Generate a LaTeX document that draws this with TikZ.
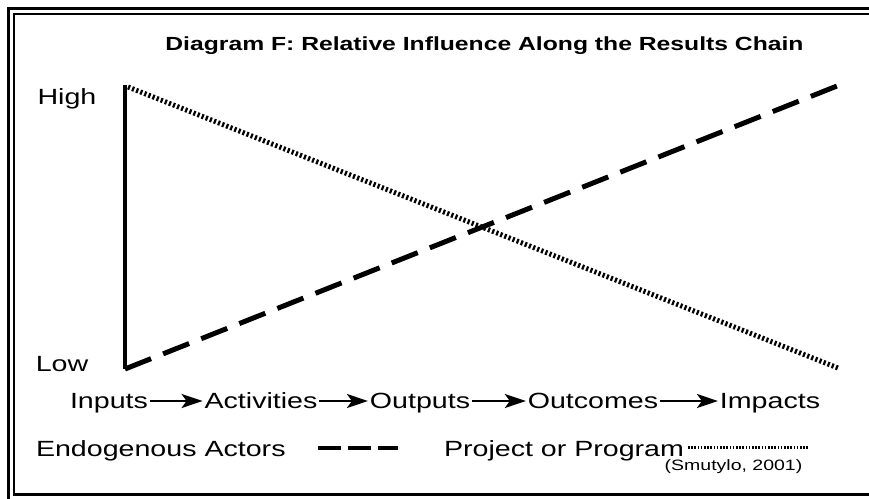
\documentclass[tikz,border=0pt]{standalone}
\usepackage{fontspec}
\setmainfont[FakeStretch=1.3]{Liberation Sans}
\usetikzlibrary{arrows.meta}
\tikzset{%
	% Style of the plain labels
	Label/.style={font=\fontsize{22}{25}\selectfont,inner sep=1pt,outer sep=0,text height=15.8pt,text depth=0pt},
	% Style of the title
	Title/.style={font=\fontsize{19}{22}\selectfont\bfseries,inner sep=0},
	% Style of the reference
	Source/.style={font=\fontsize{15}{17}\selectfont,inner sep=0},
	% Style of the chain arrows
	ChainArrow/.style={line width=2.2pt,-{Stealth[length=21pt,width=14pt,inset=5pt]},shorten <=1pt,shorten >=1pt},
	% Style of the influence lines
	Axis/.style={line width=4.5pt},
	Endogenous/.style={line width=5pt,dash pattern=on 28pt off 13pt},
	Program/.style={line width=5pt,dash pattern=on 2.2pt off 2.2pt},
	% Style of the legend samples
	EndogenousKey/.style={line width=4.5pt,dash pattern=on 23pt off 7pt},
	ProgramKey/.style={line width=3pt,dash pattern=on 1.6pt off 1.6pt},
}
\begin{document}
\begin{tikzpicture}[x=1pt,y=-1pt] % STYLES
\clip (0,0) rectangle (869,498);
\useasboundingbox (0,0) rectangle (869,498);

%~~~~~~~~~~~~~~~~~~~~~~~~~~~~~~~~~~~~~~~~~~~~~~~~~~
% Frame
%~~~~~~~~~~~~~~~~~~~~~~~~~~~~~~~~~~~~~~~~~~~~~~~~~~
\draw[line width=3pt] (8.5,8.5) rectangle (885,510);
\draw[line width=2.5pt] (14,14) rectangle (880,494.5);

%~~~~~~~~~~~~~~~~~~~~~~~~~~~~~~~~~~~~~~~~~~~~~~~~~~
% Set Nodes
%~~~~~~~~~~~~~~~~~~~~~~~~~~~~~~~~~~~~~~~~~~~~~~~~~~
\node[Title] (T) at (484.5, 46) {Diagram F: Relative Influence Along the Results Chain};

\node[Label] (High) at (67, 97) {High};
\node[Label] (Low) at (62, 364) {Low};

\coordinate (Top) at (125, 85);
\coordinate (Origin) at (125, 369);
\coordinate (EndHigh) at (837, 86);
\coordinate (ProgStart) at (128, 87);
\coordinate (EndLow) at (838, 368);

\node[Label] (Inputs) at (109, 401) {Inputs};
\node[Label] (Activities) at (261, 401) {Activities};
\node[Label] (Outputs) at (420, 401) {Outputs};
\node[Label] (Outcomes) at (593, 401) {Outcomes};
\node[Label] (Impacts) at (770, 401) {Impacts};

\node[Label,anchor=west] (EndoKey) at (35, 449) {Endogenous Actors};
\node[Label,anchor=east] (ProgKey) at (685, 449) {Project or Program};
\node[Source] (Ref) at (733.5, 467) {(Smutylo, 2001)};

\coordinate (E1) at (318, 448);
\coordinate (E2) at (398, 448);
\coordinate (P1) at (688, 447);
\coordinate (P2) at (808, 447);

%~~~~~~~~~~~~~~~~~~~~~~~~~~~~~~~~~~~~~~~~~~~~~~~~~~
% Set Branches
%~~~~~~~~~~~~~~~~~~~~~~~~~~~~~~~~~~~~~~~~~~~~~~~~~~
%Influence axis
\draw[Axis] (Top) -- (Origin);

%Project or program, high to low
\draw[Program] (ProgStart) -- (EndLow);

%Endogenous actors, low to high
\draw[Endogenous] (Origin) -- (EndHigh);

%Results chain
\draw[ChainArrow] (Inputs) -- (Activities);
\draw[ChainArrow] (Activities) -- (Outputs);
\draw[ChainArrow] (Outputs) -- (Outcomes);
\draw[ChainArrow] (Outcomes) -- (Impacts);

%Legend
\draw[EndogenousKey] (E1) -- (E2);
\draw[ProgramKey] (P1) -- (P2);

\end{tikzpicture}
\end{document}
